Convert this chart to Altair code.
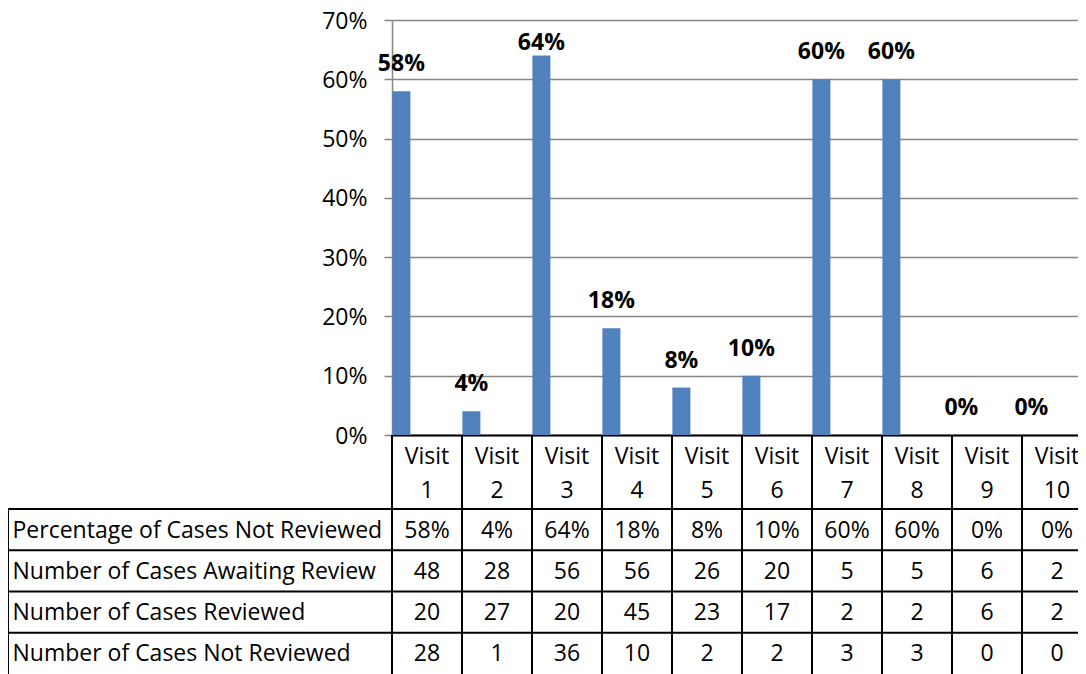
import altair as alt
import pandas as pd

# ---- data ----
visits = [f"Visit {i}" for i in range(1, 11)]
row_labels = [
    "Percentage of Cases Not Reviewed",
    "Number of Cases Awaiting Review",
    "Number of Cases Reviewed",
    "Number of Cases Not Reviewed",
]
pct_not_reviewed = [58, 4, 64, 18, 8, 10, 60, 60, 0, 0]
awaiting_review = [48, 28, 56, 56, 26, 20, 5, 5, 6, 2]
cases_reviewed = [20, 27, 20, 45, 23, 17, 2, 2, 6, 2]
cases_not_reviewed = [28, 1, 36, 10, 2, 2, 3, 3, 0, 0]
y_tick_values = [0, 0.1, 0.2, 0.3, 0.4, 0.5, 0.6, 0.7]

FONT = "Open Sans"
FS = 23
GRAY = "#868686"
BLUE = "#4F81BD"

bars_df = pd.DataFrame({
    "visit": visits,
    "series": row_labels[0],
    "pct": [v / 100 for v in pct_not_reviewed],
    "label": [f"{v}%" for v in pct_not_reviewed],
})

table_values = [
    [f"{v}%" for v in pct_not_reviewed],
    [str(v) for v in awaiting_review],
    [str(v) for v in cases_reviewed],
    [str(v) for v in cases_not_reviewed],
]
table_df = pd.DataFrame([
    {"row": r, "visit": v, "text": t}
    for r, vals in zip(row_labels, table_values)
    for v, t in zip(visits, vals)
])
rows_df = pd.DataFrame({"row": row_labels})
visits_df = pd.DataFrame({"visit": visits})
one_df = pd.DataFrame({"k": [0]})

x_scale = alt.Scale(domain=visits, paddingInner=0, paddingOuter=0)
xoff = alt.XOffset("series:N", scale=alt.Scale(domain=row_labels, paddingInner=0, paddingOuter=0.05))
row_scale = alt.Scale(domain=row_labels, range=[489, 654], paddingInner=0, paddingOuter=0)

x_axis = alt.Axis(
    title=None, labelAngle=0, labelExpr="split(datum.value, ' ')",
    labelLineHeight=34, labelFontSize=FS, labelFont=FONT, labelColor="black",
    labelPadding=10, ticks=False, domainColor="black", domainWidth=2,
    labelOverlap=False, labelBound=False, grid=False,
)
y_axis = alt.Axis(
    title=None, values=y_tick_values, format=".0%", grid=True, gridColor=GRAY,
    gridWidth=1.5, tickColor=GRAY, tickWidth=1.5, tickSize=8, domainColor=GRAY,
    domainWidth=1.5, labelPadding=17, labelOffset=1,
    labelFontSize=FS, labelFont=FONT, labelColor="black",
)

bars = alt.Chart(bars_df).mark_bar(color=BLUE, width=18).encode(
    x=alt.X("visit:N", scale=x_scale, axis=x_axis),
    xOffset=xoff,
    y=alt.Y("pct:Q", scale=alt.Scale(domain=[0, 0.7], nice=False), axis=y_axis),
)
labels = alt.Chart(bars_df).transform_calculate(
    ly="min(datum.pct, 0.615)"
).mark_text(
    font=FONT, fontSize=FS, fontWeight="bold", color="black",
    baseline="alphabetic", dy=-20,
).encode(
    x=alt.X("visit:N", scale=x_scale),
    xOffset=xoff,
    y=alt.Y("ly:Q"),
    text="label:N",
)

table_text = alt.Chart(table_df).mark_text(
    font=FONT, fontSize=FS, color="black", baseline="middle", dy=1
).encode(
    x=alt.X("visit:N", scale=x_scale),
    y=alt.Y("row:N", sort=row_labels, scale=row_scale, axis=alt.Axis(
        orient="left", title=None, domain=False, ticks=False, tickSize=0,
        grid=False, labelAlign="left", labelPadding=380, labelLimit=0,
        labelOffset=1, labelFontSize=FS, labelFont=FONT, labelColor="black",
    )),
    text="text:N",
)
hrules = alt.Chart(rows_df).mark_rule(color="black", strokeWidth=2).encode(
    y=alt.Y("row:N", sort=row_labels, scale=row_scale, bandPosition=0),
    x=alt.value(-384), x2=alt.value(700),
)
vrules = alt.Chart(visits_df).mark_rule(color="black", strokeWidth=2).encode(
    x=alt.X("visit:N", scale=x_scale, bandPosition=0),
    y=alt.value(415), y2=alt.value(670),
)
left_border = alt.Chart(one_df).mark_rule(color="black", strokeWidth=2).encode(
    x=alt.value(-384), y=alt.value(489), y2=alt.value(670),
)

chart = alt.layer(
    alt.layer(bars, labels),
    alt.layer(table_text, hrules),
    vrules,
    left_border,
).resolve_scale(y="independent").properties(
    width=700, height=415,
    autosize=alt.AutoSizeParams(type="none"),
    padding={"left": 384, "top": 12, "right": -14, "bottom": 239},
).configure_view(stroke=None)

chart.save("out.html", embed_options={"renderer": "svg", "actions": False})
